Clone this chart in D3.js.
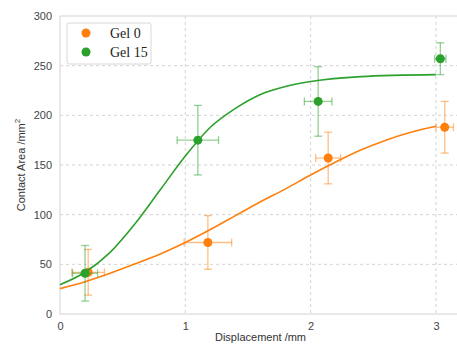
<!DOCTYPE html>
<html><head><meta charset="utf-8">
<script src="https://cdn.jsdelivr.net/npm/d3@7"></script>
<style>body{margin:0;background:#fff}svg{display:block}</style>
</head><body><svg id="c" width="457" height="347"></svg>
<script>
// ---- data ----
const seriesNames = ["Gel 0", "Gel 15"];
const seriesColors = ["#ff7f0e", "#2ca02c"];
// measured points
const gel0X = [0.225, 1.18, 2.14, 3.07];
const gel0Y = [42, 72, 157, 188];
const gel0Xerr = [0.13, 0.19, 0.10, 0.07];
const gel0Yerr = [23, 27, 26, 26];
const gel15X = [0.20, 1.10, 2.06, 3.035];
const gel15Y = [41, 175, 214, 257];
const gel15Xerr = [0.10, 0.165, 0.11, 0.045];
const gel15Yerr = [28, 35, 35, 16];
// fitted curves
const fit0X = [0, 0.2, 0.4, 0.6, 0.8, 1.0, 1.2, 1.4, 1.6, 1.8, 2.0, 2.2, 2.4, 2.6, 2.8, 3.0];
const fit0Y = [25.5, 32.5, 41, 50.5, 60.5, 72, 85, 99, 113, 126, 140, 153, 165, 175, 183, 189];
const fit15X = [0, 0.2, 0.4, 0.6, 0.8, 1.0, 1.2, 1.4, 1.6, 1.8, 2.0, 2.4, 3.0];
const fit15Y = [29.5, 42, 62, 91, 125, 159, 188, 207, 221, 229, 234, 239, 241];
const xTicks = [0, 1, 2, 3];
const yTicks = [0, 50, 100, 150, 200, 250, 300];

// ---- layout ----
const svg = d3.select("#c");
const L = 60, T = 16, R = 457, B = 314;
const x = d3.scaleLinear().domain([0, 3.168]).range([L, R]);
const y = d3.scaleLinear().domain([0, 300]).range([B, T]);
const sans = "Liberation Sans, Arial, sans-serif";

// grid
const g = svg.append("g");
g.selectAll("line.gx").data(xTicks.slice(1)).join("line")
  .attr("x1", d => x(d)).attr("x2", d => x(d)).attr("y1", T).attr("y2", B)
  .attr("stroke", "#c8c8c8").attr("stroke-width", 0.8).attr("stroke-dasharray", "3,3");
g.selectAll("line.gy").data(yTicks.slice(1, -1)).join("line")
  .attr("x1", L).attr("x2", R).attr("y1", d => y(d)).attr("y2", d => y(d))
  .attr("stroke", "#c8c8c8").attr("stroke-width", 0.8).attr("stroke-dasharray", "3,3");
// spines
svg.append("rect").attr("x", L).attr("y", T).attr("width", R - L + 2).attr("height", B - T)
  .attr("fill", "none").attr("stroke", "#d4d4d4").attr("stroke-width", 1);

// axes
const xa = svg.append("g").attr("transform", `translate(0,${B})`)
  .call(d3.axisBottom(x).tickValues(xTicks).tickSize(0).tickPadding(8).tickFormat(d3.format("d")));
const ya = svg.append("g").attr("transform", `translate(${L},0)`)
  .call(d3.axisLeft(y).tickValues(yTicks).tickSize(0).tickPadding(8));
[xa, ya].forEach(a => {
  a.select(".domain").remove();
  a.selectAll("text").attr("font-family", sans).attr("font-size", 11).attr("fill", "#444");
});

svg.append("text").attr("x", (L + R) / 2 + 2).attr("y", 341).attr("text-anchor", "middle")
  .attr("font-family", sans).attr("font-size", 11).attr("fill", "#333").text("Displacement /mm");
const yl = svg.append("text").attr("transform", "translate(25,165) rotate(-90)")
  .attr("text-anchor", "middle").attr("font-family", sans).attr("font-size", 11).attr("fill", "#333");
yl.append("tspan").text("Contact Area /mm");
yl.append("tspan").attr("dy", -5).attr("font-size", 8).text("2");

// series
const series = [
  {X: gel0X, Y: gel0Y, xe: gel0Xerr, ye: gel0Yerr, fx: fit0X, fy: fit0Y},
  {X: gel15X, Y: gel15Y, xe: gel15Xerr, ye: gel15Yerr, fx: fit15X, fy: fit15Y}
];
const line = d3.line().x(d => x(d[0])).y(d => y(d[1])).curve(d3.curveMonotoneX);
series.forEach((s, i) => {
  const col = seriesColors[i];
  const pts = s.X.map((v, k) => ({x: v, y: s.Y[k], xe: s.xe[k], ye: s.ye[k]}));
  const eg = svg.append("g").attr("stroke", col).attr("stroke-opacity", 0.5).attr("stroke-width", 1.3);
  pts.forEach(p => {
    eg.append("line").attr("x1", x(p.x)).attr("x2", x(p.x)).attr("y1", y(p.y - p.ye)).attr("y2", y(p.y + p.ye));
    eg.append("line").attr("x1", x(p.x - p.xe)).attr("x2", x(p.x + p.xe)).attr("y1", y(p.y)).attr("y2", y(p.y));
    [p.y - p.ye, p.y + p.ye].forEach(v => eg.append("line").attr("x1", x(p.x) - 4).attr("x2", x(p.x) + 4).attr("y1", y(v)).attr("y2", y(v)));
    [p.x - p.xe, p.x + p.xe].forEach(v => eg.append("line").attr("x1", x(v)).attr("x2", x(v)).attr("y1", y(p.y) - 4).attr("y2", y(p.y) + 4));
  });
  svg.append("path").datum(s.fx.map((v, k) => [v, s.fy[k]])).attr("d", line)
    .attr("fill", "none").attr("stroke", col).attr("stroke-width", 1.6);
  svg.append("g").selectAll("circle").data(pts).join("circle")
    .attr("cx", d => x(d.x)).attr("cy", d => y(d.y)).attr("r", 4.5).attr("fill", col);
});

// legend
const lg = svg.append("g");
lg.append("rect").attr("x", 67).attr("y", 23).attr("width", 84).attr("height", 41).attr("rx", 2)
  .attr("fill", "#fff").attr("stroke", "#d8d8d8").attr("stroke-width", 1);
seriesNames.forEach((n, i) => {
  lg.append("circle").attr("cx", 86).attr("cy", 33 + i * 19).attr("r", 4.5).attr("fill", seriesColors[i]);
  lg.append("text").attr("x", 110).attr("y", 38 + i * 19).attr("font-family", "Liberation Serif, Times New Roman, serif")
    .attr("font-size", 14).attr("fill", "#222").text(n);
});
</script></body></html>
